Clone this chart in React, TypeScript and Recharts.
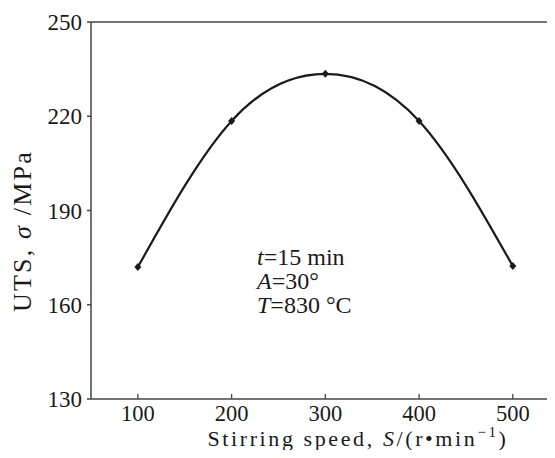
import React from 'react';
import { LineChart, Line, XAxis, YAxis, ReferenceLine } from 'recharts';

const speeds = [100, 200, 300, 400, 500];
const uts = [172, 218.5, 233.5, 218.5, 172.3];
const xTicks = [100, 200, 300, 400, 500];
const yTicks = [130, 160, 190, 220, 250];

const data = speeds.map((s, i) => ({ speed: s, uts: uts[i] }));

const FONT = '"Liberation Serif", "Times New Roman", serif';
const AXIS = '#444';
const INK = '#1a1a1a';

function Diamond(props: any) {
  const { cx, cy } = props;
  if (cx == null || cy == null) return null;
  return <path d={`M${cx},${cy - 4} L${cx + 3.5},${cy} L${cx},${cy + 4} L${cx - 3.5},${cy} Z`} fill={INK} />;
}

function XTick(props: any) {
  const { x, y, payload } = props;
  return (
    <g>
      <line x1={x} y1={y} x2={x} y2={y - 5} stroke={AXIS} strokeWidth={1.3} />
      <text x={x} y={y + 22} textAnchor="middle" fontFamily={FONT} fontSize={22.5} fill={INK}>
        {payload.value}
      </text>
    </g>
  );
}

function XLabel() {
  return (
    <text x={358} y={446} textAnchor="middle" fontFamily={FONT} fontSize={22} letterSpacing={2.6} fill={INK}>
      Stirring speed, <tspan fontStyle="italic">S</tspan>/(r•min
      <tspan dy={-9} fontSize={15}>−1</tspan>
      <tspan dy={9}>)</tspan>
    </text>
  );
}

function YLabel() {
  return (
    <text x={22} y={231} textAnchor="middle" fontFamily={FONT} fontSize={26} letterSpacing={2.2} fill={INK}
      transform="rotate(-90 22 231)" dominantBaseline="central">
      UTS, <tspan fontStyle="italic">σ</tspan> /MPa
    </text>
  );
}

export default function App() {
  return (
    <div style={{ position: 'relative', margin: -8, width: 555, height: 458, overflow: 'hidden', background: '#fff' }}>
      <LineChart width={555} height={458} data={data} margin={{ top: 22, right: 0, left: 31, bottom: 0 }}>
        <XAxis
          dataKey="speed"
          type="number"
          domain={[50, 545]}
          ticks={xTicks}
          height={59}
          tickSize={0}
          tickMargin={0}
          tick={<XTick />}
          stroke={AXIS}
          strokeWidth={1.5}
          label={<XLabel />}
        />
        <YAxis
          type="number"
          domain={[130, 250]}
          ticks={yTicks}
          width={60}
          tickSize={4}
          tickMargin={5}
          stroke={AXIS}
          strokeWidth={1.5}
          tick={{ fontFamily: FONT, fontSize: 23, fill: INK }}
          label={<YLabel />}
        />
        <ReferenceLine y={250} stroke={AXIS} strokeWidth={1.5} />
        <Line
          type="natural"
          dataKey="uts"
          stroke={INK}
          strokeWidth={2.2}
          dot={<Diamond />}
          activeDot={false}
          isAnimationActive={false}
        />
      </LineChart>
      <div style={{ position: 'absolute', left: 257, top: 245, fontFamily: FONT, fontSize: 24, lineHeight: '24px', color: INK }}>
        <div><i>t</i>=15 min</div>
        <div><i>A</i>=30°</div>
        <div><i>T</i>=830 °C</div>
      </div>
    </div>
  );
}
